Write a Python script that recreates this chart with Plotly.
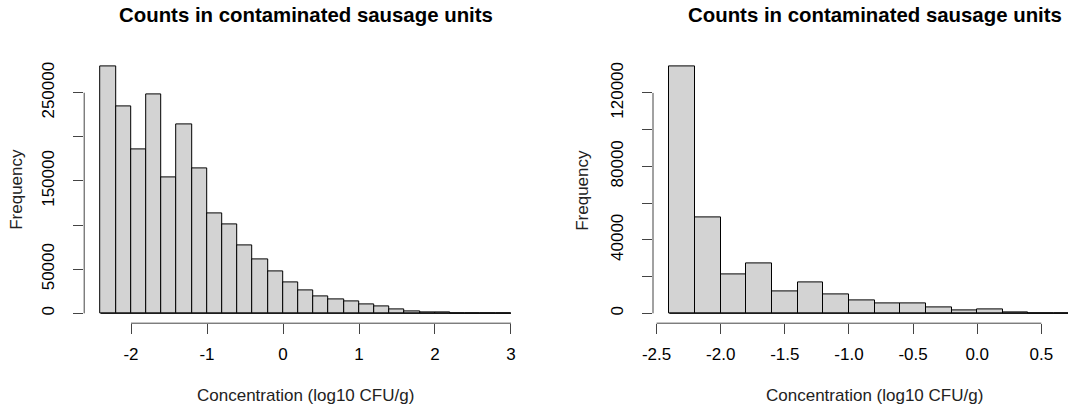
import plotly.graph_objects as go

# ---------------- data ----------------
left_breaks = [round(-2.4 + 0.2 * i, 1) for i in range(28)]  # -2.4 .. 3.0
left_counts = [280000, 234000, 186000, 248000, 154500, 214000, 164000, 113700,
               101000, 76600, 60800, 47900, 34700, 26400, 18800, 15900,
               13100, 10200, 7500, 4900, 2600, 1400, 700, 400, 0, 0, 0]
left_xticks = [-2, -1, 0, 1, 2, 3]
left_xtext = ["-2", "-1", "0", "1", "2", "3"]
left_yticks = [0, 50000, 100000, 150000, 200000, 250000]
left_ytext = ["0", "50000", "", "150000", "", "250000"]

right_breaks = [round(-2.4 + 0.2 * i, 1) for i in range(17)]  # -2.4 .. 0.8
right_counts = [134500, 52200, 21200, 27200, 12100, 16700, 10300, 7000,
                5200, 5200, 3400, 1600, 2300, 700, 0, 0]
right_xticks = [-2.5, -2.0, -1.5, -1.0, -0.5, 0.0, 0.5]
right_xtext = ["-2.5", "-2.0", "-1.5", "-1.0", "-0.5", "0.0", "0.5"]
right_yticks = [0, 20000, 40000, 60000, 80000, 100000, 120000]
right_ytext = ["0", "", "40000", "", "80000", "", "120000"]

title_text = "Counts in contaminated sausage units"
xlab = "Concentration (log10 CFU/g)"
ylab = "Frequency"

# ---------------- geometry ----------------
W, H = 1068, 408
FONT = "Liberation Sans, Arial, sans-serif"
plot_w = 443.2
L_x0, R_x0 = 84.2, 653.0
y_top, y_bot = 56.4, 323.2

def ext(lo, hi):
    d = hi - lo
    return lo - 0.04 * d, hi + 0.04 * d

fig = go.Figure()

def add_hist(breaks, counts, xa, ya):
    mids = [(a + b) / 2 for a, b in zip(breaks[:-1], breaks[1:])]
    widths = [b - a for a, b in zip(breaks[:-1], breaks[1:])]
    fig.add_trace(go.Scatter(x=[breaks[0], breaks[-1]], y=[0, 0], mode="lines",
                             line=dict(color="black", width=1), xaxis=xa, yaxis=ya,
                             showlegend=False, hoverinfo="skip"))
    fig.add_trace(go.Bar(x=mids, y=counts, width=widths,
                         marker=dict(color="#D3D3D3", line=dict(color="black", width=1)),
                         xaxis=xa, yaxis=ya, showlegend=False))

add_hist(left_breaks, left_counts, "x", "y")
add_hist(right_breaks, right_counts, "x2", "y2")

lx = ext(left_breaks[0], left_breaks[-1])
ly = ext(0, max(left_counts))
rx_full = ext(right_breaks[0], right_breaks[-1])
# right panel is cut by the image edge
r_upper = rx_full[0] + (W - R_x0) / plot_w * (rx_full[1] - rx_full[0])
ry = ext(0, max(right_counts))

ydom = [(H - y_bot) / H, (H - y_top) / H]
tickfont = dict(family=FONT, size=17, color="black")

common_x = dict(showgrid=False, zeroline=False, showline=False, ticks="outside",
                ticklen=10, tickwidth=1, tickcolor="#444", tickfont=tickfont,
                ticklabelstandoff=5, automargin=False)
common_y = dict(showgrid=False, zeroline=False, showline=False, ticks="outside",
                ticklen=10, tickwidth=1, tickcolor="#444", tickfont=tickfont,
                tickangle=-90, ticklabelstandoff=12, automargin=False)

fig.update_layout(
    width=W, height=H, margin=dict(l=0, r=0, t=0, b=0, autoexpand=False),
    paper_bgcolor="white", plot_bgcolor="white", bargap=0,
    xaxis=dict(domain=[L_x0 / W, (L_x0 + plot_w) / W], range=list(lx),
               tickvals=left_xticks, ticktext=left_xtext, anchor="y", **common_x),
    yaxis=dict(domain=ydom, range=list(ly), tickvals=left_yticks,
               ticktext=left_ytext, anchor="x", **common_y),
    xaxis2=dict(domain=[R_x0 / W, 1.0], range=[rx_full[0], r_upper],
                tickvals=right_xticks, ticktext=right_xtext, anchor="y2", **common_x),
    yaxis2=dict(domain=ydom, range=list(ry), tickvals=right_yticks,
                ticktext=right_ytext, anchor="x2", **common_y),
)

# R-style axis lines spanning only the tick range
shapes = [
    dict(type="line", xref="x", yref="y domain", x0=left_xticks[0], x1=left_xticks[-1], y0=0, y1=0),
    dict(type="line", xref="x domain", yref="y", x0=0, x1=0, y0=left_yticks[0], y1=left_yticks[-1]),
    dict(type="line", xref="x2", yref="y2 domain", x0=right_xticks[0], x1=right_xticks[-1], y0=0, y1=0),
    dict(type="line", xref="x2 domain", yref="y2", x0=0, x1=0, y0=right_yticks[0], y1=right_yticks[-1]),
]
for s in shapes:
    s["line"] = dict(color="#444", width=1)
fig.update_layout(shapes=shapes)

# titles and axis labels
ann = []
for cx, ycx in [(L_x0 + plot_w / 2, 17), (R_x0 + plot_w / 2, 583)]:
    ann.append(dict(text="<b>" + title_text + "</b>", x=cx / W, y=1 - 15 / H,
                    xref="paper", yref="paper", showarrow=False, xanchor="center",
                    yanchor="middle", font=dict(family=FONT, size=20.4, color="black")))
    ann.append(dict(text=xlab, x=cx / W, y=1 - 395 / H, xref="paper", yref="paper",
                    showarrow=False, xanchor="center", yanchor="middle",
                    font=dict(family=FONT, size=17, color="#222")))
    ann.append(dict(text=ylab, x=ycx / W, y=1 - (y_top + y_bot) / 2 / H, xref="paper",
                    yref="paper", showarrow=False, xanchor="center", yanchor="middle",
                    textangle=-90, font=dict(family=FONT, size=17, color="#222")))
fig.update_layout(annotations=ann)

fig.write_html("out.html")
